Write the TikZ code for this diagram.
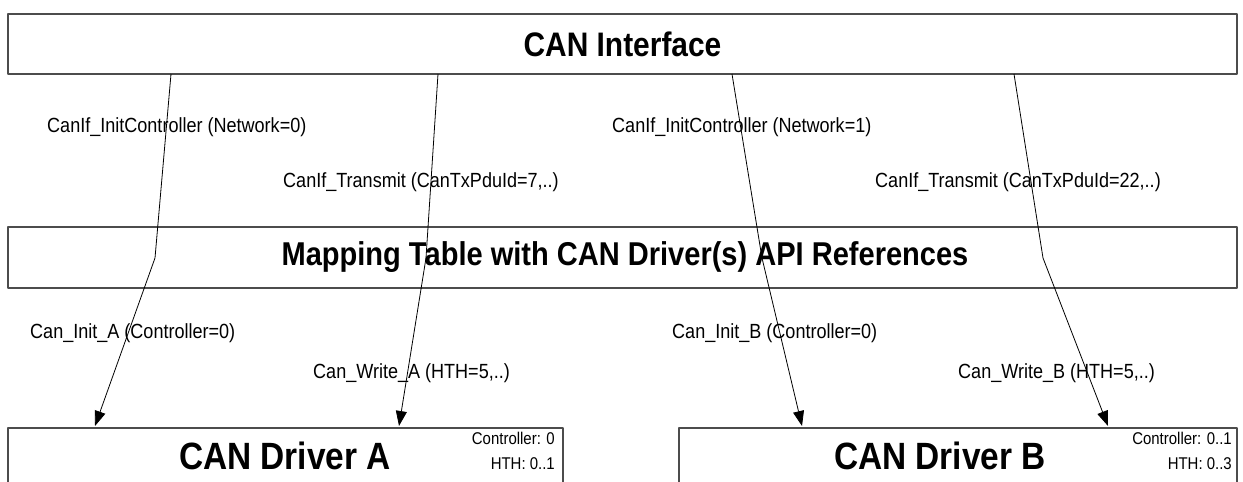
\documentclass[tikz,border=0pt]{standalone}
\usepackage{fontspec}
\setmainfont{Liberation Sans}[FakeStretch=0.88]
\usetikzlibrary{arrows.meta}

\begin{document}
\begin{tikzpicture}[x=1pt,y=-1pt,line join=round,>={Triangle[length=15pt,width=11pt]},
  layer/.style={draw=black!70,line width=1.2pt,inner sep=0pt},
  title/.style={inner sep=0pt,font=\bfseries\fontsize{#1}{#1}\selectfont},
  call/.style={anchor=west,inner sep=0pt,font=\fontsize{20.5}{22}\selectfont},
  cfg/.style={anchor=north east,align=right,inner sep=0pt,font=\fontsize{17}{25}\selectfont}]
\useasboundingbox (0,0) rectangle (1243,482);
\clip (0,0) rectangle (1243,482);
% layers
\node[layer,minimum width=1229pt,minimum height=60pt] (canif) at (622.5,44) {};
\node[title=34] (canifname) at (622.5,44) {CAN Interface};
\node[layer,minimum width=1229pt,minimum height=61pt] (maptab) at (622.5,257.5) {};
\node[title=33] (maptabname) at (625,257.5) {Mapping Table with CAN Driver(s) API References};
\node[layer,minimum width=555pt,minimum height=60pt] (drvA) at (285.5,458) {};
\node[title=38] (drvAname) at (285,456) {CAN Driver A};
\node[layer,minimum width=558pt,minimum height=60pt] (drvB) at (958,458) {};
\node[title=38] (drvBname) at (940,456) {CAN Driver B};
\node[cfg] (cfgA) at (555,432) {Controller: 0\\HTH: 0..1};
\node[cfg] (cfgB) at (1232,432) {Controller: 0..1\\HTH: 0..3};
% calls
\node[call] (initif0) at (47,127) {CanIf\_InitController (Network=0)};
\node[call] (txif7) at (283,182) {CanIf\_Transmit (CanTxPduId=7,..)};
\node[call] (initif1) at (612,127) {CanIf\_InitController (Network=1)};
\node[call] (txif22) at (875,182) {CanIf\_Transmit (CanTxPduId=22,..)};
\node[call] (initA) at (30,333) {Can\_Init\_A (Controller=0)};
\node[call] (writeA) at (313,373) {Can\_Write\_A (HTH=5,..)};
\node[call] (initB) at (672,333) {Can\_Init\_B (Controller=0)};
\node[call] (writeB) at (958,373) {Can\_Write\_B (HTH=5,..)};
% connectors: CAN Interface -> mapping table -> driver
\coordinate (s1) at (171,74);  \coordinate (b1) at (155,258);  \coordinate (e1) at (95,426);
\coordinate (s2) at (438,74);  \coordinate (b2) at (426,258);  \coordinate (e2) at (399,426);
\coordinate (s3) at (732,74);  \coordinate (b3) at (762,258);  \coordinate (e3) at (802,426);
\coordinate (s4) at (1014,74); \coordinate (b4) at (1043,258); \coordinate (e4) at (1108,426);
\foreach \i in {1,...,4}
  \draw[->,line width=0.8pt] (s\i) -- (b\i) -- (e\i);
\end{tikzpicture}
\end{document}
